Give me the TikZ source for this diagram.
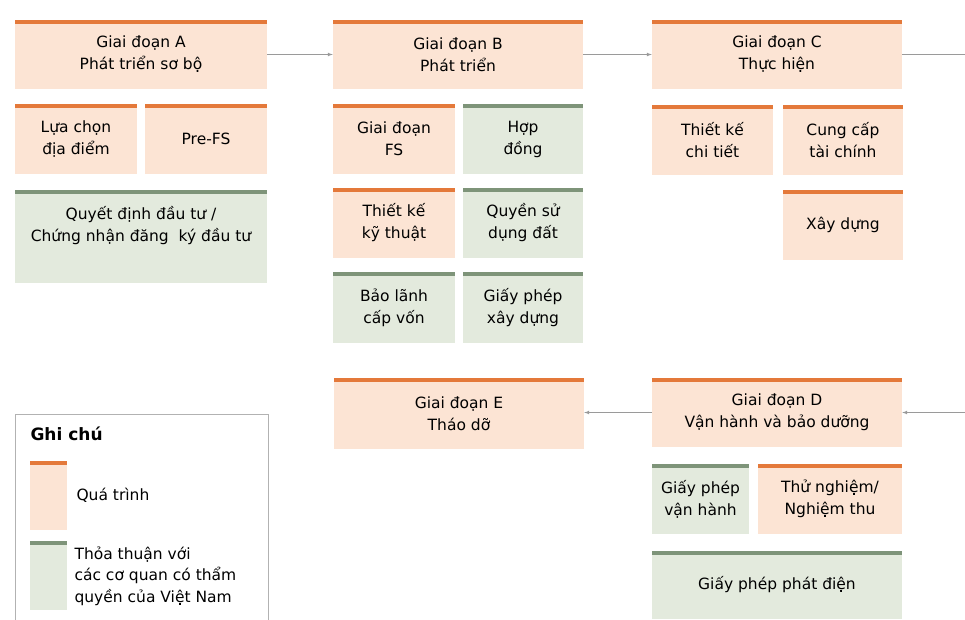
\documentclass[tikz,border=0pt]{standalone}
\usepackage{fontspec}
\setmainfont{DejaVu Sans}
\usepackage{tikz}
\usetikzlibrary{arrows}
\usetikzlibrary{positioning}
\tikzset{>=latex}
\definecolor{procfill}{HTML}{FCE4D4}
\definecolor{procbar}{HTML}{E4793A}
\definecolor{agreefill}{HTML}{E3EADD}
\definecolor{agreebar}{HTML}{7E9479}
\definecolor{linkgray}{HTML}{9A9A9A}

\begin{document}
\begin{tikzpicture}[x=1pt,y=-1pt,
	box/.style={inner sep=0pt,align=center,minimum height=70pt,font=\fontsize{15.5}{22}\selectfont},
	proc/.style={box,fill=procfill,path picture={\fill[procbar] (path picture bounding box.north west) rectangle ([yshift=-4pt]path picture bounding box.north east);}},
	agree/.style={box,fill=agreefill,path picture={\fill[agreebar] (path picture bounding box.north west) rectangle ([yshift=-4pt]path picture bounding box.north east);}},
	w/.style={minimum width=#1pt},
	h/.style={minimum height=#1pt},
	link/.style={->,draw=linkgray,line width=0.7pt},
	legtext/.style={anchor=west,align=left,font=\fontsize{15.5}{21.5}\selectfont}]
	\useasboundingbox (0,0) rectangle (965,619);
	% Giai doan A
	\node[proc,w=252,h=69] (A) at (141,54.5) {Giai đoạn A\\Phát triển sơ bộ};
	\node[proc,w=122] (site) at (76,139) {Lựa chọn\\địa điểm};
	\node[proc,w=122] (prefs) at (206,139) {Pre-FS};
	\node[agree,w=252,h=93,text depth=26pt] (invest) at (141,236.5) {Quyết định đầu tư /\\Chứng nhận đăng\ \ ký đầu tư};
	% Giai doan B
	\node[proc,w=250,h=69] (B) at (458,54.5) {Giai đoạn B\\Phát triển};
	\node[proc,w=122] (fs) at (394,139) {Giai đoạn\\FS};
	\node[agree,w=120] (contract) at (523,139) {Hợp\\đồng};
	\node[proc,w=122] (techdes) at (394,223) {Thiết kế\\kỹ thuật};
	\node[agree,w=120] (landuse) at (523,223) {Quyền sử\\dụng đất};
	\node[agree,w=122,h=71] (guarantee) at (394,307.5) {Bảo lãnh\\cấp vốn};
	\node[agree,w=120,h=71] (buildpermit) at (523,307.5) {Giấy phép\\xây dựng};
	% Giai doan C
	\node[proc,w=250,h=69] (C) at (777,54.5) {Giai đoạn C\\Thực hiện};
	\node[proc,w=121] (detdes) at (712.5,140) {Thiết kế\\chi tiết};
	\node[proc,w=120] (finance) at (843,140) {Cung cấp\\tài chính};
	\node[proc,w=120] (build) at (843,225) {Xây dựng};
	% Giai doan D
	\node[proc,w=250,h=69] (D) at (777,412.5) {Giai đoạn D\\Vận hành và bảo dưỡng};
	\node[agree,w=97] (oppermit) at (700.5,499) {Giấy phép\\vận hành};
	\node[proc,w=144] (test) at (830,499) {Thử nghiệm/\\Nghiệm thu};
	\node[agree,w=250,h=68] (genlicence) at (777,585) {Giấy phép phát điện};
	% Giai doan E
	\node[proc,w=250,h=71] (E) at (459,413.5) {Giai đoạn E\\Tháo dỡ};
	% connectors
	\coordinate (outC) at (965,54.5);
	\coordinate (inD) at (965,412.5);
	\draw[link] (A.east) -- (B.west);
	\draw[link] (B.east) -- (C.west);
	\draw[link,-] (C.east) -- (outC);
	\draw[link] (inD) -- (D.east);
	\draw[link] (D.west) -- (D.west -| E.east);
	% Ghi chu
	\draw[draw=black!30,line width=0.8pt] (15,622) |- (268,414) -- (268,622);
	\node[anchor=west,font=\bfseries\fontsize{17}{19}\selectfont] (legtitle) at (27,434) {Ghi chú};
	\node[proc,w=37,h=69] (legproc) at (48.5,495.5) {};
	\node[legtext] (legproctext) at (73,495) {Quá trình};
	\node[agree,w=37,h=69] (legagree) at (48.5,575.5) {};
	\node[legtext] (legagreetext) at (71,576) {Thỏa thuận với\\các cơ quan có thẩm\\quyền của Việt Nam};
\end{tikzpicture}
\end{document}
